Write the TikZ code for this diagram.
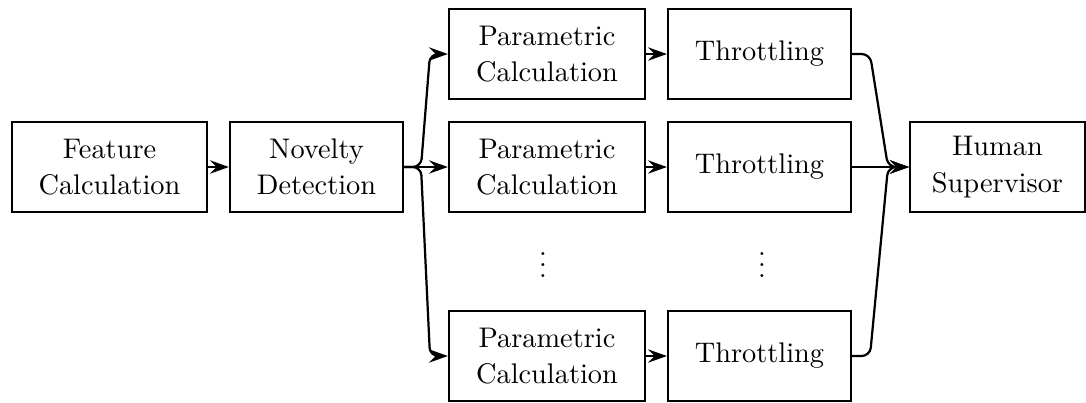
\documentclass[tikz,border=0pt]{standalone}
\usetikzlibrary{arrows.meta}
\begin{document}
\begin{tikzpicture}[x=0.3597pt,y=-0.3597pt,
  box/.style={draw,line width=0.8pt,minimum height=32.37pt,align=center,inner sep=2pt,font=\fontsize{10.2}{13}\selectfont},
  conn/.style={line width=0.8pt,-{Stealth[length=6.8pt,width=4.8pt,inset=2.4pt]},rounded corners=3pt}]
\useasboundingbox (0,0) rectangle (1086,402);
% left column
\node[box,minimum width=70.14pt] (fc) at (109.5,167) {Feature\\Calculation};
\node[box,minimum width=62.23pt] (nd) at (316.5,167) {Novelty\\Detection};
% parametric calculation
\node[box,minimum width=70.5pt] (p1) at (547,54) {Parametric\\Calculation};
\node[box,minimum width=70.5pt] (p2) at (547,167) {Parametric\\Calculation};
\node[box,minimum width=70.5pt] (p3) at (547,356) {Parametric\\Calculation};
% throttling
\node[box,minimum width=65.8pt] (t1) at (759.5,54) {Throttling};
\node[box,minimum width=65.8pt] (t2) at (759.5,167) {Throttling};
\node[box,minimum width=65.8pt] (t3) at (759.5,356) {Throttling};
% human
\node[box,minimum width=62.95pt] (hs) at (997.5,167) {Human\\Supervisor};
% dots
\node[inner sep=0pt] (d1) at (543,257) {$\vdots$};
\node[inner sep=0pt] (d2) at (762,257) {$\vdots$};
% connectors
\draw[conn] (fc.east) -- (nd.east -| nd.west);
\draw[conn] (nd.east) -- (421,167) -- (430,54) -- (p1.west);
\draw[conn] (nd.east) -- (p2.west);
\draw[conn] (nd.east) -- (421,167) -- (430,356) -- (p3.west);
\draw[conn] (p1.east) -- (t1.west);
\draw[conn] (p2.east) -- (t2.west);
\draw[conn] (p3.east) -- (t3.west);
\draw[conn] (t1.east) -- (870,54) -- (888,167) -- (hs.west);
\draw[conn] (t2.east) -- (hs.west);
\draw[conn] (t3.east) -- (870,356) -- (888,167) -- (hs.west);
\end{tikzpicture}
\end{document}
